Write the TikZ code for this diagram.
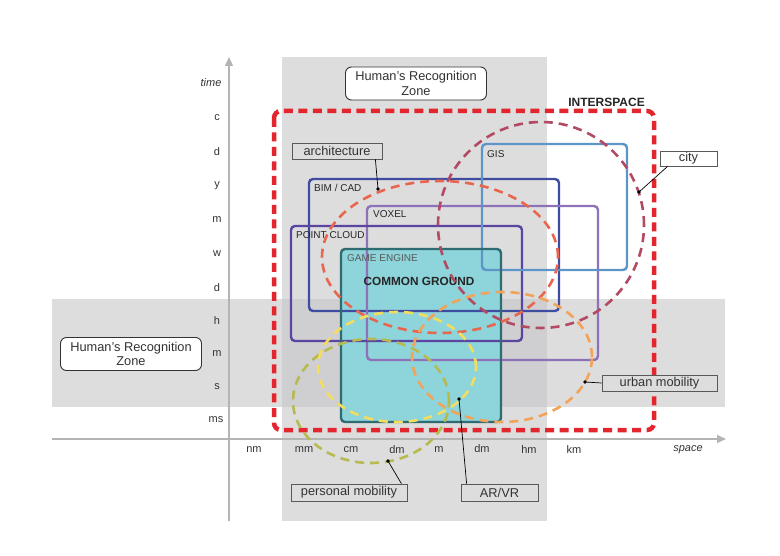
\documentclass[tikz,border=0pt]{standalone}
\usepackage{fontspec}
\setmainfont{Liberation Sans}
\usetikzlibrary{arrows.meta,calc}
\definecolor{bandc}{HTML}{DDDDDE}
\definecolor{bandx}{HTML}{CFCFD1}
\definecolor{axisc}{HTML}{B4B4B4}
\definecolor{txt}{HTML}{333333}
\definecolor{interc}{HTML}{E3262D}
\definecolor{gisc}{HTML}{5E95C8}
\definecolor{bimc}{HTML}{3F4DA0}
\definecolor{voxc}{HTML}{8D72B9}
\definecolor{pcc}{HTML}{5B45A0}
\definecolor{gec}{HTML}{2E6C72}
\definecolor{gefill}{HTML}{8DD4DB}
\definecolor{archc}{HTML}{E8654E}
\definecolor{cityc}{HTML}{B24A63}
\definecolor{urbc}{HTML}{F2A35A}
\definecolor{arvrc}{HTML}{F3DD5C}
\definecolor{persc}{HTML}{B7BA4E}
\begin{document}
\begin{tikzpicture}[x=1pt,y=-1pt,
  axislbl/.style={text=txt, font=\fontsize{11}{13}\selectfont, inner sep=0pt},
  hrz/.style={draw=black!80, line width=0.9pt, fill=white, rounded corners=6pt, align=center,
    minimum width=141pt, minimum height=33pt, inner sep=1pt, font=\fontsize{12.8}{14.5}\selectfont, text=txt},
  tag/.style={draw=black!65, line width=0.8pt, inner sep=0pt, font=\fontsize{12.8}{14}\selectfont, text=txt},
  techbox/.style={line width=2.4pt, rounded corners=4pt},
  boxlbl/.style={anchor=west, inner sep=0pt, font=\fontsize{10}{12}\selectfont, text=black!85},
  ell/.style={line width=2.6pt, dash pattern=on 9pt off 6pt},
  dotc/.style={circle, fill=black, inner sep=0pt, minimum size=3.6pt},
  lead/.style={draw=black, line width=0.7pt},
  axisline/.style={draw=axisc, line width=1.5pt, -{Triangle[width=8pt,length=9pt]}}
]
\useasboundingbox (0,0) rectangle (780,556);
% bands
\fill[bandc] (282,57) rectangle (547,521);
\fill[bandc] (52,299) rectangle (725,407);
\fill[bandx] (282,299) rectangle (547,407);
% axes
\draw[axisline] (229,521) -- (229,57);
\draw[axisline] (52,439) -- (726,439);
% time labels
\node[axislbl, font=\fontsize{11}{13}\selectfont\itshape] (tTime) at (211,83) {time};
\node[axislbl] (t1) at (217,118) {c};
\node[axislbl] (t2) at (217,152) {d};
\node[axislbl] (t3) at (217,186) {y};
\node[axislbl] (t4) at (217,220) {m};
\node[axislbl] (t5) at (217,254) {w};
\node[axislbl] (t6) at (217,288) {d};
\node[axislbl] (t7) at (217,321) {h};
\node[axislbl] (t8) at (217,354) {m};
\node[axislbl] (t9) at (217,387) {s};
\node[axislbl] (t10) at (216,420) {ms};
% space labels
\node[axislbl] (s1) at (254,450) {nm};
\node[axislbl] (s2) at (304,450) {mm};
\node[axislbl] (s3) at (351,450) {cm};
\node[axislbl] (s4) at (397,450) {dm};
\node[axislbl] (s5) at (439,450) {m};
\node[axislbl] (s6) at (482,449) {dm};
\node[axislbl] (s7) at (529,450) {hm};
\node[axislbl] (s8) at (574,450) {km};
\node[axislbl, font=\fontsize{11}{13}\selectfont\itshape] (sSpace) at (688,450) {space};
% human recognition zones
\node[hrz] (hrzTop) at (416,83.5) {Human’s Recognition\\Zone};
\node[hrz] (hrzLeft) at (131,354) {Human’s Recognition\\Zone};
% game engine fill
\fill[gefill, rounded corners=4pt] (341,249) rectangle (501,422);
% technology boxes
\draw[techbox, bimc] (309,179) rectangle (559,311);
\draw[techbox, voxc] (367,206) rectangle (598,360);
\draw[techbox, pcc] (291,226) rectangle (522,341);
\draw[techbox, gisc] (482,144) rectangle (627,270);
\draw[techbox, gec] (341,249) rectangle (501,422);
\node[boxlbl] (lGIS) at (487,154) {GIS};
\node[boxlbl] (lBIM) at (314,188) {BIM / CAD};
\node[boxlbl] (lVOX) at (373,214) {VOXEL};
\node[boxlbl] (lPC) at (296,235) {POINT CLOUD};
\node[boxlbl, text=black!65] (lGE) at (347,258) {GAME ENGINE};
\node[inner sep=0pt, font=\fontsize{11.8}{13}\selectfont\bfseries, text=black!85] (lCG) at (419,281) {COMMON GROUND};
% interspace
\draw[interc, line width=4.5pt, dash pattern=on 9pt off 5.5pt, rounded corners=7pt] (274,111) rectangle (654,430);
\node[inner sep=0pt, font=\fontsize{12}{14}\selectfont\bfseries, text=black!85, anchor=east] (lInter) at (645,102) {INTERSPACE};
% ellipses
\draw[ell, archc] (440,257) ellipse [x radius=118pt, y radius=76pt];
\draw[ell, cityc] (541,225) ellipse [x radius=103pt, y radius=103pt];
\draw[ell, urbc] (502,357) ellipse [x radius=90pt, y radius=65pt];
\draw[ell, persc] (371,401) ellipse [x radius=78pt, y radius=62pt];
\draw[ell, arvrc] (397,367) ellipse [x radius=79pt, y radius=55pt];
% dots
\node[dotc] (dArch) at (378,189) {};
\node[dotc] (dCity) at (639,192) {};
\node[dotc] (dUrb) at (585,382) {};
\node[dotc] (dPers) at (388,461) {};
\node[dotc] (dAR) at (459,399) {};
% tags
\node[tag, minimum width=90pt, minimum height=16pt] (tagArch) at (337,151) {architecture};
\node[tag, minimum width=57pt, minimum height=15pt] (tagCity) at (688.5,158.5) {city};
\node[tag, minimum width=115pt, minimum height=16pt, fill=bandc] (tagUrb) at (659.5,383) {urban mobility};
\node[tag, minimum width=116pt, minimum height=17pt] (tagPers) at (349,492.5) {personal mobility};
\node[tag, minimum width=77pt, minimum height=17pt] (tagAR) at (499.5,492.5) {AR/VR};
% leaders
\draw[lead] ($(tagArch.south east)+(-7,0)$) -- (dArch.center);
\draw[lead] ($(tagCity.south west)+(8,0)$) -- (dCity.center);
\draw[lead] (tagUrb.west) -- (dUrb.center);
\draw[lead] ($(tagPers.north east)+(-6,0)$) -- (dPers.center);
\draw[lead] ($(tagAR.north west)+(6,0)$) -- (dAR.center);
\end{tikzpicture}
\end{document}
